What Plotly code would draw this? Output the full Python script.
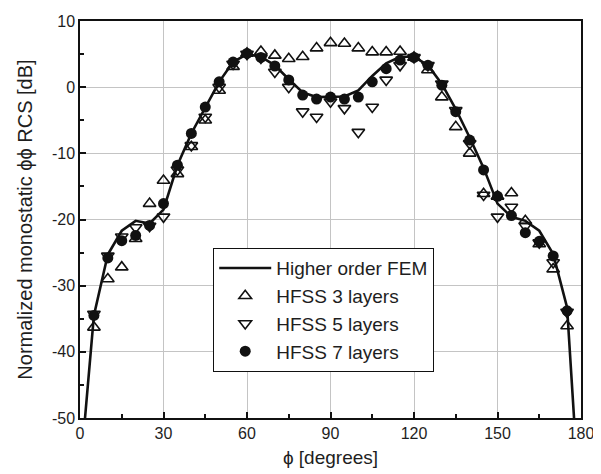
import plotly.graph_objects as go

# FEM line
fem_phi = [1.8, 5, 10, 15, 20, 25, 30, 35, 40, 45, 50, 55, 60, 65, 70, 75, 80, 85, 90,
           95, 100, 105, 110, 115, 120, 125, 130, 135, 140, 145, 150, 155, 160, 165, 170, 175, 177.5]
fem_rcs = [-50, -34.5, -25.3, -21.7, -20.2, -20.6, -18.5, -11.8, -7.0, -3.0, 0.8, 3.8, 5.0, 4.6, 3.3, 1.2, -0.8, -1.5, -1.4,
           -1.4, -0.5, 1.7, 3.6, 4.6, 4.6, 3.3, 0.5, -3.3, -7.6, -12.2, -17.6, -19.6, -20.2, -21.7, -25.2, -33.3, -50]

phi = [5, 10, 15, 20, 25, 30, 35, 40, 45, 50, 55, 60, 65, 70, 75, 80, 85, 90,
       95, 100, 105, 110, 115, 120, 125, 130, 135, 140, 145, 150, 155, 160, 165, 170, 175]

hfss3 = [-36.3, -29.0, -27.2, -22.9, -17.6, -14.1, -13.1, -9.0, -5.0, -0.5, 3.1, 5.1, 5.4, 4.8, 4.3, 4.6, 5.9, 6.7,
         6.6, 5.9, 5.3, 5.3, 5.4, 4.5, 2.6, -1.5, -6.0, -10.0, -16.1, -16.5, -16.0, -20.2, -23.7, -27.5, -36.1]
hfss5 = [-34.3, -25.5, -22.6, -21.2, -21.0, -19.6, -12.5, -8.8, -4.5, 0.0, 3.5, 5.0, 4.4, 2.3, 0.0, -3.7, -4.5, -2.2,
         -3.2, -6.8, -3.0, 1.1, 3.3, 4.5, 3.3, 0.5, -3.5, -8.5, -16.3, -19.6, -18.1, -21.0, -23.5, -26.5, -34.0]
hfss7 = [-34.5, -25.8, -23.2, -22.4, -20.9, -17.6, -11.8, -7.0, -3.0, 0.8, 3.8, 5.1, 4.5, 3.2, 1.1, -1.2, -1.8, -1.5,
         -1.8, -1.5, 0.8, 2.8, 4.1, 4.5, 3.3, 0.3, -3.7, -8.0, -12.5, -16.5, -19.4, -22.0, -23.3, -25.5, -33.8]

x_ticks = [0, 30, 60, 90, 120, 150, 180]
y_ticks = [-50, -40, -30, -20, -10, 0, 10]

font = "Liberation Sans, Arial, sans-serif"
txt = "#1e1e1e"

fig = go.Figure()
fig.add_trace(go.Scatter(x=fem_phi, y=fem_rcs, mode="lines", name="Higher order FEM",
                         line=dict(color="#111", width=2.6)))
fig.add_trace(go.Scatter(x=phi, y=hfss3, mode="markers", name="HFSS 3 layers",
                         marker=dict(symbol="triangle-up-open", size=11, color="#111", line=dict(width=1.6))))
fig.add_trace(go.Scatter(x=phi, y=hfss5, mode="markers", name="HFSS 5 layers",
                         marker=dict(symbol="triangle-down-open", size=11, color="#111", line=dict(width=1.6))))
fig.add_trace(go.Scatter(x=phi, y=hfss7, mode="markers", name="HFSS 7 layers",
                         marker=dict(symbol="circle", size=11, color="#111")))

axis_common = dict(showline=True, linecolor="#111", linewidth=1.5, mirror=True,
                   showgrid=True, gridcolor="#c4c4c4", gridwidth=1,
                   ticks="inside", ticklen=6, tickwidth=1.5, tickcolor="#111",
                   zeroline=False, automargin=False, tickfont=dict(size=16, color=txt),
                   minor=dict(ticks="inside", ticklen=4, tickwidth=1.5, tickcolor="#111", showgrid=False))

fig.update_xaxes(range=[0, 180], tickvals=x_ticks, ticktext=[str(v) for v in x_ticks],
                 title=dict(text="ϕ [degrees]", font=dict(size=19, color=txt), standoff=10),
                 **axis_common)
fig.update_xaxes(minor=dict(dtick=15, tick0=0))
fig.update_yaxes(range=[-50, 10], tickvals=y_ticks, ticktext=[str(v) for v in y_ticks],
                 title=dict(text="Normalized monostatic ϕϕ RCS [dB]", font=dict(size=20, color=txt), standoff=14),
                 **axis_common)
fig.update_yaxes(minor=dict(dtick=5, tick0=0))

fig.update_layout(
    width=593, height=466,
    margin=dict(l=72, r=20, t=13, b=56),
    paper_bgcolor="white", plot_bgcolor="white",
    font=dict(family=font, color=txt),
    showlegend=True,
    legend=dict(x=0.2655, y=0.272, xanchor="left", yanchor="middle",
                bgcolor="white", bordercolor="#111", borderwidth=1.2,
                font=dict(size=19, color=txt), tracegroupgap=0, itemwidth=52),
)

fig.write_html("out.html")
